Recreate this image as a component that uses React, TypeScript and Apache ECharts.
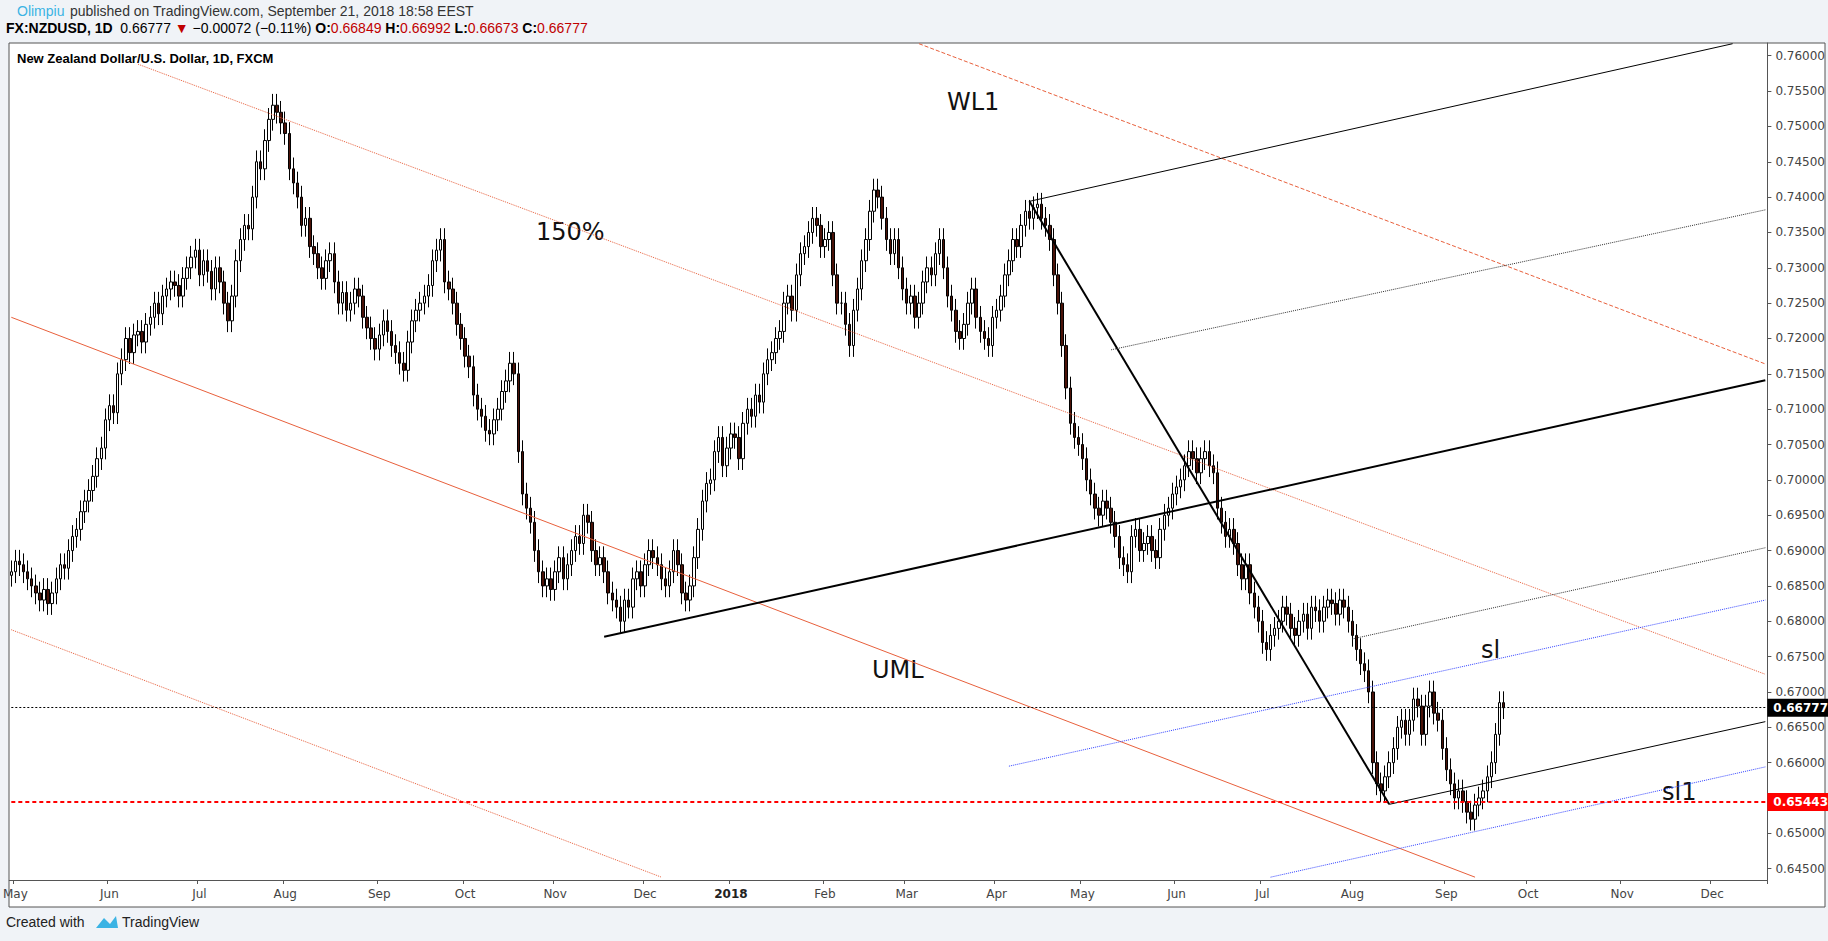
import { useEffect, useRef } from 'react';
import * as echarts from 'echarts';

// daily closes, month by month (first value is 2017-04-28)
const closes2017: number[] = [
  0.6870,
  // May
  0.6885, 0.6880, 0.6870, 0.6860, 0.6850, 0.6840, 0.6830, 0.6845, 0.6825, 0.6840, 0.6860, 0.6880, 0.6875, 0.6900, 0.6920, 0.6930, 0.6955, 0.6970, 0.6985, 0.7005, 0.7030, 0.7045, 0.7085,
  // Jun
  0.7105, 0.7095, 0.7150, 0.7170, 0.7200, 0.7180, 0.7205, 0.7210, 0.7195, 0.7220, 0.7230, 0.7250, 0.7235, 0.7260, 0.7270, 0.7280, 0.7275, 0.7260, 0.7285, 0.7300, 0.7315, 0.7325,
  // Jul
  0.7290, 0.7310, 0.7295, 0.7270, 0.7300, 0.7280, 0.7250, 0.7225, 0.7260, 0.7310, 0.7340, 0.7360, 0.7355, 0.7400, 0.7450, 0.7440, 0.7480, 0.7510, 0.7530, 0.7520, 0.7505,
  // Aug
  0.7490, 0.7440, 0.7420, 0.7400, 0.7360, 0.7370, 0.7330, 0.7320, 0.7300, 0.7285, 0.7310, 0.7320, 0.7280, 0.7250, 0.7265, 0.7240, 0.7250, 0.7270, 0.7260, 0.7230, 0.7215, 0.7200, 0.7185,
  // Sep
  0.7205, 0.7225, 0.7210, 0.7190, 0.7180, 0.7165, 0.7155, 0.7195, 0.7225, 0.7240, 0.7250, 0.7260, 0.7275, 0.7310, 0.7325, 0.7340, 0.7280, 0.7270, 0.7250, 0.7220, 0.7200,
  // Oct
  0.7175, 0.7160, 0.7120, 0.7100, 0.7090, 0.7070, 0.7065, 0.7085, 0.7100, 0.7125, 0.7140, 0.7165, 0.7150, 0.7040, 0.6980, 0.6960, 0.6940, 0.6900, 0.6870, 0.6850, 0.6860, 0.6845,
  // Nov
  0.6870, 0.6890, 0.6860, 0.6880, 0.6900, 0.6920, 0.6910, 0.6950, 0.6940, 0.6900, 0.6880, 0.6890, 0.6870, 0.6840, 0.6830, 0.6820, 0.6800, 0.6830, 0.6820, 0.6860, 0.6870, 0.6850,
  // Dec
  0.6880, 0.6900, 0.6890, 0.6880, 0.6860, 0.6850, 0.6870, 0.6900, 0.6880, 0.6840, 0.6830, 0.6850, 0.6890, 0.6930, 0.6970, 0.6995, 0.7000, 0.7040, 0.7060, 0.7020, 0.7045,
];

const closes2018: number[] = [
  // Jan
  0.7065, 0.7060, 0.7030, 0.7080, 0.7100, 0.7090, 0.7120, 0.7110, 0.7150, 0.7170, 0.7180, 0.7200, 0.7210, 0.7250, 0.7260, 0.7240, 0.7290, 0.7320, 0.7330, 0.7350, 0.7370, 0.7360, 0.7330,
  // Feb
  0.7340, 0.7350, 0.7290, 0.7250, 0.7250, 0.7220, 0.7190, 0.7240, 0.7270, 0.7310, 0.7340, 0.7380, 0.7410, 0.7400, 0.7370, 0.7340, 0.7320, 0.7340, 0.7300, 0.7270,
  // Mar
  0.7250, 0.7260, 0.7230, 0.7250, 0.7280, 0.7300, 0.7290, 0.7320, 0.7340, 0.7300, 0.7260, 0.7240, 0.7210, 0.7200, 0.7220, 0.7250, 0.7270, 0.7230, 0.7210, 0.7200, 0.7190, 0.7230,
  // Apr
  0.7240, 0.7260, 0.7290, 0.7310, 0.7340, 0.7330, 0.7360, 0.7380, 0.7370, 0.7385, 0.7390, 0.7370, 0.7360, 0.7340, 0.7290, 0.7250, 0.7190, 0.7130, 0.7080, 0.7060, 0.7050,
  // May
  0.7030, 0.7000, 0.6980, 0.6960, 0.6950, 0.6970, 0.6960, 0.6940, 0.6920, 0.6890, 0.6880, 0.6870, 0.6920, 0.6930, 0.6900, 0.6910, 0.6920, 0.6900, 0.6890, 0.6930, 0.6950, 0.6960, 0.6980,
  // Jun
  0.6990, 0.7000, 0.7020, 0.7040, 0.7030, 0.7010, 0.7030, 0.7040, 0.7020, 0.7010, 0.6960, 0.6940, 0.6920, 0.6930, 0.6910, 0.6880, 0.6860, 0.6880, 0.6840, 0.6820, 0.6800,
  // Jul
  0.6770, 0.6760, 0.6780, 0.6790, 0.6800, 0.6820, 0.6810, 0.6790, 0.6780, 0.6800, 0.6810, 0.6790, 0.6820, 0.6815, 0.6800, 0.6820, 0.6830, 0.6825, 0.6810, 0.6830, 0.6820, 0.6800,
  // Aug
  0.6780, 0.6760, 0.6740, 0.6730, 0.6700, 0.6600, 0.6570, 0.6560, 0.6580, 0.6600, 0.6620, 0.6650, 0.6660, 0.6640, 0.6660, 0.6690, 0.6680, 0.6640, 0.6680, 0.6700, 0.6670, 0.6660, 0.6620,
  // Sep
  0.6590, 0.6570, 0.6550, 0.6560, 0.6545, 0.6530, 0.6520, 0.6540, 0.6550, 0.6560, 0.6580, 0.6600, 0.6640, 0.66849, 0.66777,
];

const firstOpen = 0.6865;
const wick = 0.0016;
const lastPrice = 0.66777;
const supportPrice = 0.65443;
const yTicks = [0.645, 0.65, 0.655, 0.66, 0.665, 0.67, 0.675, 0.68, 0.685, 0.69, 0.695, 0.7, 0.705, 0.71, 0.715, 0.72, 0.725, 0.73, 0.735, 0.74, 0.745, 0.75, 0.755, 0.76];

// [startDate, startPrice, endDate, endPrice, color, width, type]
const trendLines: [string, number, string, number, string, number, string][] = [
  ['2017-04-28', 0.7230, '2018-09-12', 0.6438, '#e8603c', 1, 'solid'],
  ['2017-06-12', 0.7588, '2018-12-20', 0.6725, '#e8603c', 1, 'dotted'],
  ['2017-04-28', 0.6788, '2017-12-07', 0.6438, '#e8603c', 1, 'dotted'],
  ['2018-03-06', 0.7617, '2018-12-20', 0.7164, '#e8603c', 1, 'dashed'],
  ['2017-11-17', 0.6778, '2018-12-20', 0.7141, '#000000', 2, 'solid'],
  ['2018-04-12', 0.7394, '2018-08-14', 0.6541, '#000000', 2, 'solid'],
  ['2018-04-12', 0.7394, '2018-12-10', 0.7617, '#000000', 1, 'solid'],
  ['2018-08-14', 0.6541, '2018-12-20', 0.6658, '#000000', 1, 'solid'],
  ['2018-05-10', 0.7184, '2018-12-20', 0.7382, '#333333', 1, 'dotted'],
  ['2018-08-01', 0.6775, '2018-12-20', 0.6904, '#333333', 1, 'dotted'],
  ['2018-04-05', 0.6595, '2018-12-20', 0.6830, '#3344ff', 1, 'dotted'],
  ['2018-07-04', 0.6438, '2018-12-20', 0.6594, '#3344ff', 1, 'dotted'],
];

const monthNames = ['Jan', 'Feb', 'Mar', 'Apr', 'May', 'Jun', 'Jul', 'Aug', 'Sep', 'Oct', 'Nov', 'Dec'];

function weekdays(from: string, to: string): string[] {
  const out: string[] = [];
  const d = new Date(from + 'T00:00:00Z');
  const end = new Date(to + 'T00:00:00Z');
  while (d <= end) {
    const wd = d.getUTCDay();
    if (wd !== 0 && wd !== 6) out.push(d.toISOString().slice(0, 10));
    d.setUTCDate(d.getUTCDate() + 1);
  }
  return out;
}

export default function App() {
  const chartRef = useRef<HTMLDivElement>(null);

  useEffect(() => {
    document.body.style.margin = '0';
    if (!chartRef.current) return;
    const chart = echarts.init(chartRef.current, undefined, { renderer: 'svg' });

    const dates = weekdays('2017-04-28', '2018-12-20');
    const closes = [...closes2017, ...closes2018];
    const candles = closes.map((c, i) => {
      const o = i === 0 ? firstOpen : closes[i - 1];
      return [o, c, Math.min(o, c) - wick, Math.max(o, c) + wick];
    });

    const firstOfMonth = new Set<number>();
    dates.forEach((d, i) => {
      if (i > 0 && d.slice(5, 7) !== dates[i - 1].slice(5, 7)) firstOfMonth.add(i);
    });
    firstOfMonth.add(0);

    const first = dates[0];
    const last = dates[dates.length - 1];
    const priceLabel = (bg: string) => ({
      show: true, position: 'end', backgroundColor: bg, color: '#fff', fontWeight: 'bold',
      padding: [3, 6], fontSize: 12, distance: 2,
    });

    const markData: any[] = trendLines.map(([d1, p1, d2, p2, color, w, t]) => [
      { coord: [d1, p1], lineStyle: { color, width: w, type: t } },
      { coord: [d2, p2] },
    ]);
    markData.push([
      { coord: [first, lastPrice], lineStyle: { color: '#000', width: 1, type: [2, 2] }, label: { ...priceLabel('#000'), formatter: lastPrice.toFixed(5) } },
      { coord: [last, lastPrice] },
    ]);
    markData.push([
      { coord: [first, supportPrice], lineStyle: { color: '#ff0000', width: 2, type: [4, 3] }, label: { ...priceLabel('#ff0000'), formatter: supportPrice.toFixed(5) } },
      { coord: [last, supportPrice] },
    ]);

    chart.setOption({
      animation: false,
      backgroundColor: '#f0f3f7',
      textStyle: { fontFamily: 'Verdana, DejaVu Sans, sans-serif' },
      graphic: [
        { type: 'rect', shape: { x: 9, y: 43, width: 1816, height: 864 }, style: { fill: '#fff', stroke: '#555', lineWidth: 1 }, z: -10 },
        { type: 'text', x: 17, y: 4, style: { text: 'Olimpiu', fill: '#3bb3e4', font: '14px Liberation Sans' } },
        { type: 'text', x: 70, y: 4, style: { text: 'published on TradingView.com, September 21, 2018 18:58 EEST', fill: '#333', font: '14px Liberation Sans' } },
        {
          type: 'text', x: 6, y: 21,
          style: {
            text: '{b|FX:NZDUSD, 1D}  0.66777 {r|▼} −0.00072 (−0.11%) {b|O:}{r|0.66849} {b|H:}{r|0.66992} {b|L:}{r|0.66673} {b|C:}{r|0.66777}',
            fill: '#000', font: '14px Liberation Sans',
            rich: { b: { fontWeight: 'bold', fontSize: 14, fontFamily: 'Liberation Sans' }, r: { fill: '#c00000', fontSize: 14, fontFamily: 'Liberation Sans' } },
          },
        },
        { type: 'text', x: 17, y: 52, style: { text: 'New Zealand Dollar/U.S. Dollar, 1D, FXCM', fill: '#000', font: 'bold 13px Liberation Sans' } },
        { type: 'text', x: 947, y: 90, style: { text: 'WL1', fill: '#111', font: '24px DejaVu Sans' } },
        { type: 'text', x: 536, y: 220, style: { text: '150%', fill: '#111', font: '24px DejaVu Sans' } },
        { type: 'text', x: 872, y: 658, style: { text: 'UML', fill: '#111', font: '24px DejaVu Sans' } },
        { type: 'text', x: 1481, y: 638, style: { text: 'sl', fill: '#111', font: '24px DejaVu Sans' } },
        { type: 'text', x: 1662, y: 780, style: { text: 'sl1', fill: '#111', font: '24px DejaVu Sans' } },
        { type: 'text', x: 6, y: 915, style: { text: 'Created with', fill: '#222', font: '14px Liberation Sans' } },
        { type: 'text', x: 122, y: 915, style: { text: 'TradingView', fill: '#222', font: '14px Liberation Sans' } },
        { type: 'polygon', shape: { points: [[96, 928], [104, 918], [110, 924], [116, 916], [118, 928]] }, style: { fill: '#3bb3e4' } },
      ],
      grid: { left: 9, right: 58, top: 43, bottom: 61 },
      xAxis: {
        type: 'category',
        data: dates,
        boundaryGap: true,
        axisLine: { lineStyle: { color: '#555' } },
        axisTick: { show: true, interval: (i: number) => firstOfMonth.has(i) && i > 0, length: 4, lineStyle: { color: '#555' } },
        axisLabel: {
          interval: (i: number) => firstOfMonth.has(i),
          color: '#444',
          fontSize: 12,
          formatter: (v: string) => {
            const m = Number(v.slice(5, 7));
            if (v === dates[0]) return 'May';
            return m === 1 ? '{y|' + v.slice(0, 4) + '}' : monthNames[m - 1];
          },
          rich: { y: { fontWeight: 'bold', color: '#222', fontSize: 12 } },
        },
        splitLine: { show: false },
      },
      yAxis: {
        type: 'value',
        position: 'right',
        min: 0.6434,
        max: 0.7618,
        axisLine: { show: true, lineStyle: { color: '#555' } },
        axisTick: { show: true, customValues: yTicks, length: 4 },
        axisLabel: { customValues: yTicks, color: '#444', fontSize: 12, formatter: (v: number) => v.toFixed(5) },
        splitLine: { show: false },
      },
      series: [
        {
          type: 'candlestick',
          data: candles,
          barWidth: 3,
          itemStyle: { color: '#ffffff', color0: '#4a1208', borderColor: '#000', borderColor0: '#000', borderWidth: 1 },
          markLine: { silent: true, symbol: 'none', animation: false, label: { show: false }, data: markData },
        },
      ],
    });

    return () => chart.dispose();
  }, []);

  return <div ref={chartRef} style={{ width: '1828px', height: '941px' }} />;
}
